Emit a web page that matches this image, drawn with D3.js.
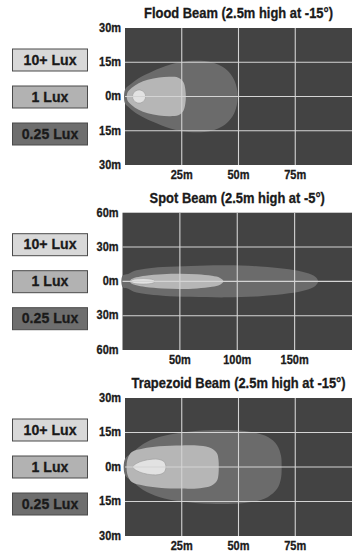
<!DOCTYPE html>
<html>
<head>
<meta charset="utf-8">
<script src="https://cdn.jsdelivr.net/npm/d3@7"></script>
<style>
  html, body { margin: 0; padding: 0; background: #ffffff; }
  svg { display: block; }
  text { font-family: "Liberation Sans", Arial, Helvetica, sans-serif; font-weight: bold; fill: #1a1a1a; stroke: #1a1a1a; stroke-width: 0.3; }
</style>
</head>
<body>
<svg id="chart" width="359" height="559"></svg>
<script>
// ---------------- DATA ----------------
const titles = [
  "Flood Beam (2.5m high at -15\u00B0)",
  "Spot Beam (2.5m high at -5\u00B0)",
  "Trapezoid Beam (2.5m high at -15\u00B0)"
];
const legendLabels = ["10+ Lux", "1 Lux", "0.25 Lux"];

const floodXDomain = [0, 100];
const floodYDomain = [-30, 30];
const floodXTicks = [25, 50, 75];
const floodYTicks = [30, 15, 0, -15, -30];

const spotXDomain = [0, 200];
const spotYDomain = [-60, 60];
const spotXTicks = [50, 100, 150];
const spotYTicks = [60, 30, 0, -30, -60];

const trapXDomain = [0, 100];
const trapYDomain = [-30, 30];
const trapXTicks = [25, 50, 75];
const trapYTicks = [30, 15, 0, -15, -30];

// beam contour profiles: [distance m, half-width m]
const flood025 = [[0,3],[2,5],[6,8],[12,11],[20,14],[28,15.5],[35,15.5],[41,14],[45,11.5],[48,7.5],[49.3,3.5],[49.6,0]];
const flood1   = [[1,1.5],[3,3.8],[6,5.8],[10,7.3],[15,8.3],[20,8.6],[23.5,8.2],[25.7,6.3],[26.6,3],[26.8,0]];
const flood10  = [[3.3,0],[3.8,1.6],[4.8,2.5],[6.2,2.9],[7.6,2.5],[8.6,1.6],[9.1,0]];

const spot025 = [[0,5],[5,6.5],[10,9],[20,11],[35,12.5],[60,13.5],[90,14],[120,13],[145,10.5],[160,7.5],[168,4],[170.5,0]];
const spot1   = [[7,1.2],[12,3.5],[20,5],[35,6.3],[50,6.7],[65,6.2],[78,4.8],[85,3],[88,0]];
const spot10  = [[7.5,0],[9,1.5],[13,2.2],[18,2.4],[24,2],[27,1.3],[28.5,0]];

const trap025 = [[0,3.5],[3,6],[8,10],[15,13],[25,15],[37,16],[48,16],[57,15],[63,13],[67,9.5],[68.7,5],[69,0]];
const trap1   = [[1,3],[3,6.5],[8,8],[15,9],[25,9.4],[33,9.2],[38,8.2],[40.5,6],[41.2,3],[41.3,0]];
const trap10  = [[3.4,0],[5,1.5],[8,2.7],[12,3.4],[15,3.3],[17,2.5],[17.8,1.3],[18,0]];

// ---------------- LAYOUT / STYLE ----------------
const panels = [
  { title: titles[0], xd: floodXDomain, yd: floodYDomain, xt: floodXTicks, yt: floodYTicks,
    shapes: [flood025, flood1, flood10], left: 125, right: 352, top: 28, bottom: 165 },
  { title: titles[1], xd: spotXDomain, yd: spotYDomain, xt: spotXTicks, yt: spotYTicks,
    shapes: [spot025, spot1, spot10], left: 122.5, right: 352, top: 212.7, bottom: 350 },
  { title: titles[2], xd: trapXDomain, yd: trapYDomain, xt: trapXTicks, yt: trapYTicks,
    shapes: [trap025, trap1, trap10], left: 125, right: 352, top: 398, bottom: 536 }
];
const shapeFills = ["#6b6b6b", "#b6b6b6", "#e2e2e2"];
const legendFills = ["#d8d8d8", "#b2b2b2", "#6e6e6e"];
const plotBg = "#434343";
const gridColor = "#d4d4d4";

const TITLE_SIZE = 14, TICK_SIZE = 12.5, LEGEND_SIZE = 15.5;

const svg = d3.select("#chart");

// horizontal condensation factors so the bold face matches the condensed look
function measure(str, size) {
  const t = svg.append("text").attr("font-size", size).text(str);
  const w = t.node().getComputedTextLength();
  t.remove();
  return w;
}
const kTitle = 189 / (measure(titles[0], TITLE_SIZE) || 189);
const kTick = 22 / (measure("25m", TICK_SIZE) || 22);
const kLegend = 53 / (measure("10+ Lux", LEGEND_SIZE) || 53);

function addText(parent, x, y, str, size, anchor, k) {
  return parent.append("text")
    .attr("transform", `translate(${x},${y}) scale(${k},1)`)
    .attr("text-anchor", anchor)
    .attr("dominant-baseline", "middle")
    .attr("font-size", size)
    .text(str);
}

function closedPoints(prof) {
  const upper = prof.map(p => [p[0], p[1]]);
  const lower = prof.slice().reverse().filter(p => p[1] !== 0).map(p => [p[0], -p[1]]);
  return upper.concat(lower);
}

panels.forEach(p => {
  const g = svg.append("g");
  const x = d3.scaleLinear().domain(p.xd).range([p.left, p.right]);
  const y = d3.scaleLinear().domain(p.yd).range([p.bottom, p.top]);

  addText(g, (p.left + p.right) / 2, p.top - 13.5, p.title, TITLE_SIZE, "middle", kTitle);

  g.append("rect")
    .attr("x", p.left).attr("y", p.top)
    .attr("width", p.right - p.left).attr("height", p.bottom - p.top)
    .attr("fill", plotBg);

  const line = d3.line()
    .x(d => x(d[0])).y(d => y(d[1]))
    .curve(d3.curveCatmullRomClosed.alpha(0.5));
  p.shapes.forEach((s, i) => {
    g.append("path")
      .attr("d", line(closedPoints(s)))
      .attr("fill", shapeFills[i])
      .attr("stroke", i === 2 ? "#9a9a9a" : "none")
      .attr("stroke-width", 0.6);
  });

  const innerY = p.yt.filter(v => v !== p.yd[0] && v !== p.yd[1]);
  g.selectAll(null).data(innerY).enter().append("line")
    .attr("x1", p.left).attr("x2", p.right)
    .attr("y1", d => y(d)).attr("y2", d => y(d))
    .attr("stroke", gridColor).attr("stroke-width", 1.1);
  g.selectAll(null).data(p.xt).enter().append("line")
    .attr("y1", p.top).attr("y2", p.bottom)
    .attr("x1", d => x(d)).attr("x2", d => x(d))
    .attr("stroke", gridColor).attr("stroke-width", 1.1);

  p.yt.forEach(v => addText(g, p.left - 4, y(v) + 0.5, Math.abs(v) + "m", TICK_SIZE, "end", kTick));
  p.xt.forEach(v => addText(g, x(v), p.bottom + 10.5, v + "m", TICK_SIZE, "middle", kTick));

  legendLabels.forEach((lab, i) => {
    const by = p.top + 21 + i * 37;
    g.append("rect")
      .attr("x", 12.5).attr("y", by)
      .attr("width", 75).attr("height", 22)
      .attr("fill", legendFills[i])
      .attr("stroke", "#4a4a4a").attr("stroke-width", 1);
    addText(g, 50, by + 11.5, lab, LEGEND_SIZE, "middle", kLegend);
  });
});
</script>
</body>
</html>
